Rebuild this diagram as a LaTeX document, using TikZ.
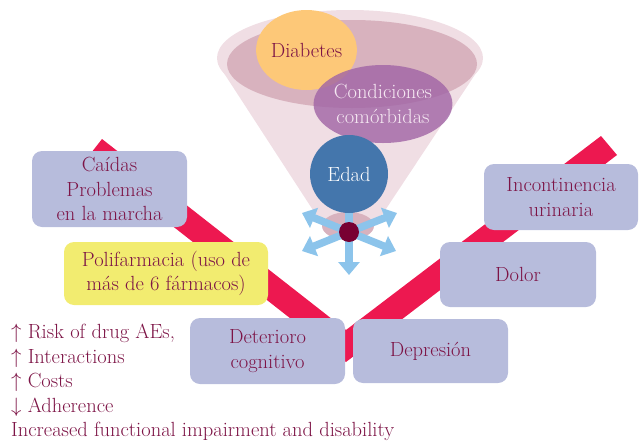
\documentclass[tikz,border=0pt]{standalone}
\usepackage{amsmath}
\usepackage{xcolor}
\usepackage{tikz}
\usetikzlibrary{shapes.geometric, arrows.meta, positioning}
\definecolor{boxlav}{RGB}{183, 188, 220}
\definecolor{polyellow}{RGB}{242, 236, 112}
\definecolor{txtmaroon}{RGB}{125, 20, 70}
\definecolor{bandred}{RGB}{237, 24, 80}
\definecolor{funnelpale}{RGB}{240, 222, 228}
\definecolor{funnelrose}{RGB}{216, 178, 190}
\definecolor{diaborange}{RGB}{253, 200, 120}
\definecolor{comorpurple}{RGB}{160, 100, 165}
\definecolor{comortext}{RGB}{245, 232, 242}
\definecolor{edadblue}{RGB}{68, 118, 172}
\definecolor{spokeblue}{RGB}{140, 196, 235}
\definecolor{hubmaroon}{RGB}{120, 0, 50}

\begin{document}
\begin{tikzpicture}[
    x=1pt, y=-1pt,
    txt/.style={font=\fontsize{20.5}{24.5}\selectfont},
    box/.style={rectangle, fill=boxlav, text=txtmaroon, txt, align=center, rounded corners=10pt, inner sep=0pt},
    blob/.style={ellipse, inner sep=0pt, txt, align=center},
    spoke/.style={-{Triangle[width=21pt, length=13pt]}, line width=7.5pt, spokeblue}
]
\useasboundingbox (0,0) rectangle (641,445);

% funnel
\fill[funnelpale] (350,58) ellipse [x radius=133, y radius=48];
\fill[funnelpale] (218,64) -- (322,224) -- (376,224) -- (482,64) -- cycle;
\fill[funnelrose] (352,64) ellipse [x radius=125, y radius=44];
\fill[funnelrose] (348,226) ellipse [x radius=26, y radius=14];

% the V
\fill[bandred] (102,139) -- (346,330) -- (601,136) -- (617,155) -- (346,362) -- (86.6,158.7) -- cycle;

\node[blob, fill=diaborange, text=txtmaroon, minimum width=87pt, minimum height=80pt] (diab) at (306.5,50) {Diabetes};
\node[blob, fill=comorpurple, fill opacity=0.8, text opacity=1, text=comortext, minimum width=128pt, minimum height=78pt] (comor) at (383,104) {Condiciones\\comórbidas};

% spokes
\node[circle, fill=hubmaroon, minimum size=20pt, inner sep=0pt] (hub) at (349,232) {};
\coordinate (nw) at (302,213);
\coordinate (ne) at (397,213);
\coordinate (sw) at (302,251);
\coordinate (se) at (396,251);
\coordinate (s) at (349,275);
\coordinate (n) at (349,196);
\foreach \t in {nw, ne, sw, se, s, n}
    \draw[spoke] (hub.center) -- (\t);
\node[circle, fill=hubmaroon, minimum size=20pt, inner sep=0pt] at (hub) {};

\node[blob, circle, fill=edadblue, text=white, minimum size=78pt] (edad) at (349,174) {Edad};

% boxes
\node[box, minimum width=155pt, minimum height=76pt] (caidas) at (109.5,189) {Caídas\\Problemas\\en la marcha};
\node[box, fill=polyellow, minimum width=204pt, minimum height=63pt] (polif) at (166,273.5) {Polifarmacia (uso de\\más de 6 fármacos)};
\node[box, minimum width=154pt, minimum height=66pt] (incont) at (561,197) {Incontinencia\\urinaria};
\node[box, minimum width=156pt, minimum height=65pt] (dolor) at (518,274.5) {Dolor};
\node[box, minimum width=155pt, minimum height=66pt] (deter) at (267.5,351) {Deterioro\\cognitivo};
\node[box, minimum width=155pt, minimum height=64pt] (depres) at (430.5,351) {Depresión};

\node[txt, text=txtmaroon, align=left, anchor=north west, inner sep=0pt] (effects) at (11,324)
    {$\uparrow$ Risk of drug AEs,\\$\uparrow$ Interactions\\$\uparrow$ Costs\\$\downarrow$ Adherence\\Increased functional impairment and disability};

\end{tikzpicture}
\end{document}
